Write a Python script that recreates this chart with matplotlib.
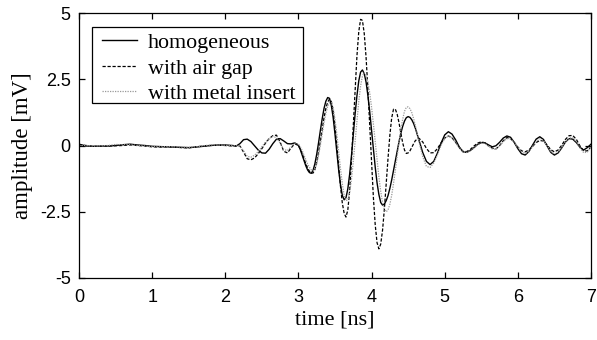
import matplotlib
matplotlib.use("Agg")
import matplotlib.pyplot as plt
from matplotlib.patches import Rectangle

# time samples [ns]
time_ns = [
    0.0, 0.1, 0.2, 0.3, 0.4, 0.5, 0.6, 0.7, 0.8, 0.9, 1.0, 1.1, 1.2, 1.3, 1.4, 1.5, 1.6, 1.7, 1.8, 1.9, 2.0, 2.1,
    2.15, 2.2, 2.25, 2.3, 2.35, 2.4, 2.45, 2.5, 2.55, 2.6, 2.65, 2.7, 2.75, 2.8, 2.85, 2.9, 2.95, 3.0,
    3.025, 3.05, 3.075, 3.1, 3.125, 3.15, 3.175, 3.2, 3.225, 3.25,
    3.275, 3.3, 3.325, 3.35, 3.375, 3.4, 3.425, 3.45, 3.475, 3.5,
    3.525, 3.55, 3.575, 3.6, 3.625, 3.65, 3.675, 3.7, 3.725, 3.75,
    3.775, 3.8, 3.825, 3.85, 3.875, 3.9, 3.925, 3.95, 3.975, 4.0,
    4.025, 4.05, 4.075, 4.1, 4.125, 4.15, 4.175, 4.2, 4.225, 4.25,
    4.275, 4.3, 4.325, 4.35, 4.375, 4.4, 4.425, 4.45, 4.475, 4.5,
    4.525, 4.55, 4.575, 4.6,
    4.65, 4.7, 4.75, 4.8, 4.85, 4.9, 4.95, 5.0, 5.05, 5.1,
    5.15, 5.2, 5.25, 5.3, 5.35, 5.4, 5.45, 5.5, 5.55, 5.6,
    5.65, 5.7, 5.75, 5.8, 5.85, 5.9, 5.95, 6.0, 6.05, 6.1,
    6.15, 6.2, 6.25, 6.3, 6.35, 6.4, 6.45, 6.5, 6.55, 6.6,
    6.65, 6.7, 6.75, 6.8, 6.85, 6.9, 6.95, 7.0,
]

# amplitude [mV] - homogeneous
homogeneous = [
    0.05, -0.02, -0.03, -0.02, -0.02, 0.0, 0.03, 0.05, 0.02, 0.0, -0.03, -0.04, -0.05, -0.06, -0.07, -0.08, -0.06, -0.03, 0.0, 0.02, 0.02, 0.0,
    -0.02, 0.07, 0.22, 0.24, 0.15, -0.01, -0.17, -0.28, -0.29, -0.14, 0.07, 0.24, 0.26, 0.17, 0.07, 0.06, 0.10, 0.0,
    -0.15, -0.35, -0.56, -0.76, -0.92, -1.02, -1.05, -0.94, -0.69, -0.33,
    0.10, 0.57, 1.01, 1.40, 1.67, 1.81, 1.78, 1.51, 1.05, 0.43,
    -0.25, -0.92, -1.48, -1.88, -2.05, -1.97, -1.64, -1.09, -0.39, 0.40,
    1.19, 1.88, 2.44, 2.77, 2.85, 2.71, 2.39, 1.88, 1.27, 0.59,
    -0.13, -0.82, -1.41, -1.85, -2.15, -2.25, -2.21, -2.08, -1.89, -1.62,
    -1.30, -0.95, -0.58, -0.21, 0.14, 0.46, 0.72, 0.92, 1.05, 1.09,
    1.06, 0.97, 0.83, 0.64,
    0.19, -0.27, -0.60, -0.72, -0.60, -0.29, 0.09, 0.40, 0.52, 0.43,
    0.21, -0.06, -0.24, -0.26, -0.19, -0.08, 0.04, 0.11, 0.10, 0.02,
    -0.05, -0.01, 0.12, 0.28, 0.36, 0.31, 0.12, -0.12, -0.31, -0.36,
    -0.23, 0.01, 0.24, 0.33, 0.23, -0.02, -0.26, -0.36, -0.28, -0.09,
    0.13, 0.26, 0.24, 0.11, -0.07, -0.17, -0.08, 0.05,
]

# amplitude [mV] - with air gap
air_gap = [
    0.03, 0.0, -0.03, -0.03, -0.02, -0.01, 0.0, 0.02, 0.0, -0.02, -0.05, -0.06, -0.05, -0.06, -0.08, -0.09, -0.05, -0.02, 0.0, 0.01, 0.0, -0.02,
    -0.02, -0.02, -0.25, -0.50, -0.54, -0.47, -0.31, -0.12, 0.09, 0.26, 0.37, 0.39, 0.13, -0.22, -0.28, -0.09, 0.07, 0.0,
    -0.13, -0.29, -0.49, -0.68, -0.84, -0.97, -1.04, -1.04, -0.91, -0.64,
    -0.27, 0.17, 0.62, 1.05, 1.40, 1.64, 1.75, 1.66, 1.31, 0.73,
    0.0, -0.79, -1.54, -2.17, -2.56, -2.70, -2.44, -1.71, -0.57, 0.77,
    2.15, 3.38, 4.30, 4.76, 4.72, 4.22, 3.32, 2.11, 0.74, -0.68,
    -1.97, -3.00, -3.67, -3.90, -3.72, -3.20, -2.40, -1.45, -0.48, 0.39,
    1.04, 1.37, 1.37, 1.18, 0.86, 0.47, 0.11, -0.17, -0.30, -0.28,
    -0.20, -0.07, 0.07, 0.19,
    0.27, 0.13, -0.11, -0.28, -0.27, -0.12, 0.10, 0.28, 0.36, 0.29,
    0.12, -0.08, -0.22, -0.23, -0.15, -0.02, 0.09, 0.14, 0.10, -0.01,
    -0.10, -0.13, -0.01, 0.18, 0.30, 0.26, 0.12, -0.06, -0.20, -0.24,
    -0.17, -0.04, 0.11, 0.19, 0.17, 0.02, -0.16, -0.24, -0.17, 0.01,
    0.23, 0.37, 0.38, 0.23, -0.02, -0.21, -0.20, -0.05,
]

# amplitude [mV] - with metal insert
metal_insert = [
    0.0, 0.0, -0.02, -0.01, 0.0, 0.04, 0.03, 0.03, 0.0, -0.02, -0.04, -0.05, -0.04, -0.05, -0.06, -0.07, -0.05, -0.01, 0.02, 0.02, 0.01, -0.01,
    -0.01, -0.02, -0.20, -0.41, -0.44, -0.37, -0.23, -0.05, 0.13, 0.27, 0.34, 0.30, 0.08, -0.15, -0.19, -0.05, 0.09, 0.06,
    -0.04, -0.18, -0.36, -0.53, -0.70, -0.82, -0.92, -0.95, -0.88, -0.69,
    -0.37, 0.01, 0.44, 0.85, 1.21, 1.48, 1.62, 1.63, 1.42, 0.99,
    0.43, -0.23, -0.88, -1.44, -1.87, -2.08, -2.05, -1.78, -1.28, -0.60,
    0.16, 0.96, 1.67, 2.25, 2.62, 2.75, 2.66, 2.40, 1.98, 1.44,
    0.81, 0.13, -0.56, -1.19, -1.73, -2.15, -2.41, -2.50, -2.43, -2.22,
    -1.88, -1.43, -0.94, -0.41, 0.12, 0.60, 0.99, 1.29, 1.44, 1.46,
    1.39, 1.24, 1.01, 0.74,
    0.12, -0.43, -0.79, -0.83, -0.66, -0.35, 0.0, 0.26, 0.36, 0.29,
    0.11, -0.10, -0.24, -0.26, -0.20, -0.09, 0.03, 0.09, 0.08, -0.03,
    -0.13, -0.14, -0.02, 0.14, 0.26, 0.25, 0.12, -0.07, -0.23, -0.30,
    -0.23, -0.05, 0.15, 0.25, 0.19, -0.01, -0.23, -0.32, -0.25, -0.07,
    0.13, 0.28, 0.29, 0.14, -0.09, -0.27, -0.25, -0.05,
]

series_labels = ["homogeneous", "with air gap", "with metal insert"]
x_ticks = [0, 1, 2, 3, 4, 5, 6, 7]
y_ticks = [-5, -2.5, 0, 2.5, 5]
y_tick_labels = ["-5", "-2.5", "0", "2.5", "5"]

fig = plt.figure(figsize=(5.97, 3.40), dpi=100)
ax = fig.add_axes([79 / 597, 62 / 340, 512 / 597, 265 / 340])

ax.plot(time_ns, homogeneous, color="black", lw=1.0, linestyle="-", label=series_labels[0])
ax.plot(time_ns, air_gap, color="black", lw=0.9, linestyle=(0, (2.6, 1.4)), label=series_labels[1])
ax.plot(time_ns, metal_insert, color="0.6", lw=0.9, linestyle=(0, (1.0, 1.0)), label=series_labels[2])

ax.set_xlim(0, 7)
ax.set_ylim(-5, 5)
ax.set_xticks(x_ticks)
ax.set_xticklabels([str(v) for v in x_ticks])
ax.set_yticks(y_ticks)
ax.set_yticklabels(y_tick_labels)

for lab in ax.get_xticklabels() + ax.get_yticklabels():
    lab.set_fontfamily(["Liberation Sans", "DejaVu Sans"])
    lab.set_fontsize(13)

ax.tick_params(axis="x", direction="in", length=4, width=0.9, top=True, pad=8, colors="black")
ax.tick_params(axis="y", direction="in", length=4, width=0.9, right=True, pad=6, colors="black")
for sp in ax.spines.values():
    sp.set_linewidth(0.9)
    sp.set_color("black")

serif = ["Liberation Serif", "DejaVu Serif"]
ax.set_xlabel("time [ns]", family=serif, fontsize=16, labelpad=3)
ax.set_ylabel("amplitude [mV]", family=serif, fontsize=16.5, labelpad=5)

# legend frame (drawn as a plain rectangle for independent horizontal/vertical padding)
frame = Rectangle((13 / 512, 175 / 265), 211 / 512, 76 / 265, transform=ax.transAxes,
                  facecolor="white", edgecolor="black", linewidth=0.9, zorder=4)
ax.add_patch(frame)

leg = ax.legend(loc="upper left", bbox_to_anchor=(21.6 / 512, 1 - 18.5 / 265), borderaxespad=0,
                prop={"family": serif, "size": 15.8}, frameon=False,
                handlelength=1.6, handletextpad=0.5, labelspacing=0.23, borderpad=0.06)
leg.set_zorder(5)

fig.savefig("out.png", dpi=100)
